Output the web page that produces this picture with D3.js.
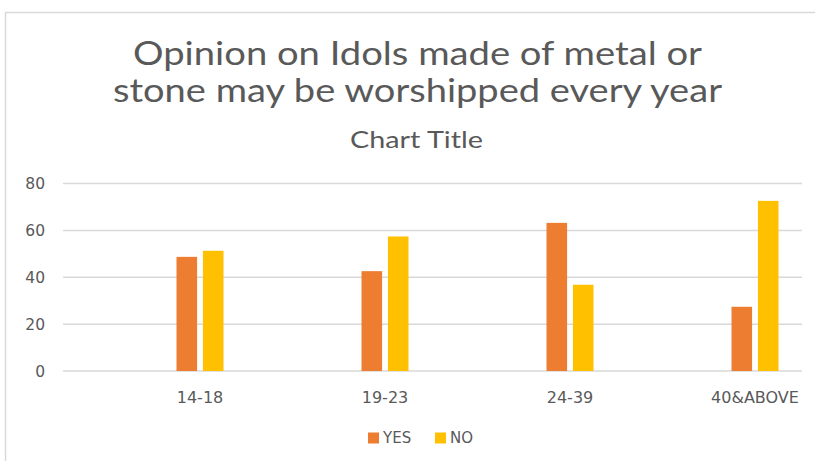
<!DOCTYPE html>
<html><head><meta charset="utf-8">
<script src="https://cdn.jsdelivr.net/npm/d3@7"></script>
<style>body{margin:0;background:#fff}svg{display:block}text{font-family:"DejaVu Sans",sans-serif;fill:#595959}.ttl{font-family:Lato,"Open Sans",sans-serif}</style>
</head><body>
<script>
const categories = ["14-18", "19-23", "24-39", "40&ABOVE"];
const seriesNames = ["YES", "NO"];
const yesValues = [48.7, 42.6, 63.2, 27.4];
const noValues = [51.3, 57.4, 36.8, 72.6];
const yTicks = [0, 20, 40, 60, 80];
const colors = ["#ED7D31", "#FFC000"];
const titleLines = ["Opinion on Idols made of metal or", "stone may be worshipped every year"];
const subTitle = "Chart Title";

const W = 815, H = 461;
const svg = d3.select("body").append("svg").attr("width", W).attr("height", H);

// chart border
svg.append("path").attr("d", `M5.5,${H} V12.5 H${W}`).attr("fill", "none").attr("stroke", "#d9d9d9").attr("stroke-width", 1.5);

const y = d3.scaleLinear().domain([0, 80]).range([371, 183.5]);
const gridX = [63, 802];
const x = d3.scaleBand().domain(categories).range([107.5, 847.5]);
const xs = d3.scaleBand().domain(seriesNames).range([-23.5, 23.5]).paddingInner(0.22);

// gridlines
svg.append("g").selectAll("line").data(yTicks).join("line")
  .attr("x1", gridX[0]).attr("x2", gridX[1])
  .attr("y1", d => y(d)).attr("y2", d => y(d))
  .attr("stroke", "#d9d9d9").attr("stroke-width", 1.5);

// y labels
svg.append("g").selectAll("text").data(yTicks).join("text")
  .attr("x", 45).attr("y", d => y(d)).attr("dy", "0.36em")
  .attr("text-anchor", "end").attr("font-size", 15.5).text(d => d);

// bars
const data = categories.map((c, i) => ({c, vals: [yesValues[i], noValues[i]]}));
const groups = svg.append("g").selectAll("g").data(data).join("g")
  .attr("transform", d => `translate(${x(d.c) + x.bandwidth() / 2},0)`);
groups.selectAll("rect").data(d => d.vals.map((v, j) => ({v, s: seriesNames[j], j}))).join("rect")
  .attr("x", d => xs(d.s)).attr("width", xs.bandwidth())
  .attr("y", d => y(d.v)).attr("height", d => y(0) - y(d.v))
  .attr("fill", d => colors[d.j]);

// x labels
svg.append("g").selectAll("text").data(categories).join("text")
  .attr("x", d => x(d) + x.bandwidth() / 2).attr("y", 402.5)
  .attr("text-anchor", "middle").attr("font-size", 16).text(d => d);

// titles
const titleLen = [569, 609];
svg.append("g").selectAll("text").data(titleLines).join("text")
  .attr("class", "ttl")
  .attr("x", 417.5).attr("y", (d, i) => 65 + i * 37)
  .attr("text-anchor", "middle").attr("font-size", 33)
  .attr("textLength", (d, i) => titleLen[i]).attr("lengthAdjust", "spacingAndGlyphs").text(d => d);
svg.append("text").attr("class", "ttl").attr("x", 416.5).attr("y", 148)
  .attr("text-anchor", "middle").attr("font-size", 23)
  .attr("textLength", 133).attr("lengthAdjust", "spacingAndGlyphs").text(subTitle);

// legend
const legX = [368, 435];
const leg = svg.append("g").selectAll("g").data(seriesNames).join("g")
  .attr("transform", (d, i) => `translate(${legX[i]},438)`);
leg.append("rect").attr("x", 0).attr("y", -5.5).attr("width", 11).attr("height", 11).attr("fill", (d, i) => colors[i]);
leg.append("text").attr("x", 15).attr("y", 0).attr("dy", "0.36em").attr("font-size", 15).text(d => d);
</script>
</body></html>
